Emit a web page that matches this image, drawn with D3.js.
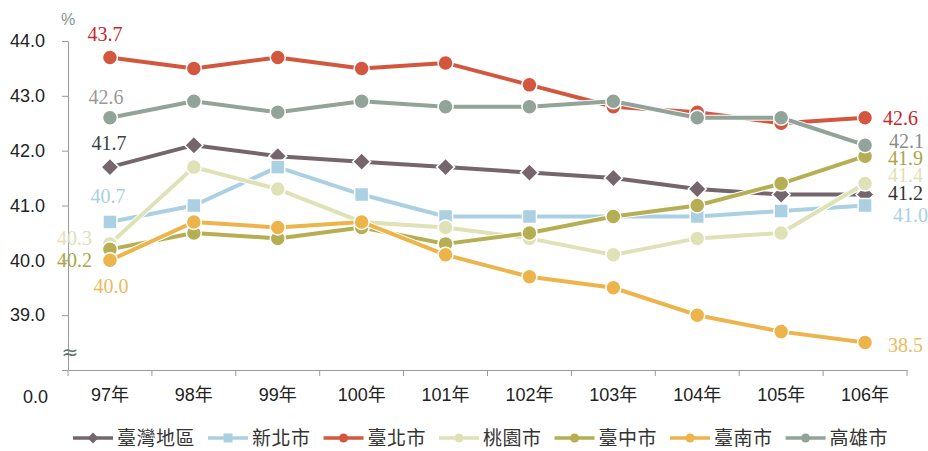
<!DOCTYPE html>
<html>
<head>
<meta charset="utf-8">
<script src="https://cdn.jsdelivr.net/npm/d3@7"></script>
<style>
  html, body { margin: 0; padding: 0; background: #fff; }
  svg { display: block; }
</style>
</head>
<body>
<svg id="chart" width="928" height="451"></svg>
<script>
// ---------------- data ----------------
const years = ["97年", "98年", "99年", "100年", "101年", "102年", "103年", "104年", "105年", "106年"];
const seriesNames = ["臺灣地區", "新北市", "臺北市", "桃園市", "臺中市", "臺南市", "高雄市"];
const taiwan    = [41.7, 42.1, 41.9, 41.8, 41.7, 41.6, 41.5, 41.3, 41.2, 41.2];
const newTaipei = [40.7, 41.0, 41.7, 41.2, 40.8, 40.8, 40.8, 40.8, 40.9, 41.0];
const taipei    = [43.7, 43.5, 43.7, 43.5, 43.6, 43.2, 42.8, 42.7, 42.5, 42.6];
const taoyuan   = [40.3, 41.7, 41.3, 40.7, 40.6, 40.4, 40.1, 40.4, 40.5, 41.4];
const taichung  = [40.2, 40.5, 40.4, 40.6, 40.3, 40.5, 40.8, 41.0, 41.4, 41.9];
const tainan    = [40.0, 40.7, 40.6, 40.7, 40.1, 39.7, 39.5, 39.0, 38.7, 38.5];
const kaohsiung = [42.6, 42.9, 42.7, 42.9, 42.8, 42.8, 42.9, 42.6, 42.6, 42.1];
const yTicks = [38, 39, 40, 41, 42, 43, 44];
const yBreakLabel = "0.0";
const unitLabel = "%";

// ---------------- styles ----------------
const seriesValues = [taiwan, newTaipei, taipei, taoyuan, taichung, tainan, kaohsiung];
const colors = ["#75666d", "#abd0e1", "#d3573f", "#dfe1b6", "#b6ae52", "#ecb44a", "#92a399"];
const shapes = ["diamond", "square", "circle", "circle", "circle", "circle", "circle"];
const labelColors = ["#404040", "#abd0e1", "#c8282a", "#dfe1b6", "#aaa547", "#edb95c", "#999999"];
const endLabelColors = ["#333333", "#abd0e1", "#c8282a", "#dfe1b6", "#aaa547", "#edb95c", "#8c8c8c"];
// label offsets relative to first / last point: [anchor, dx, dy]
const startLabelPos = [["middle", -1, -17], ["middle", -2, -19], ["middle", -5, -16], ["end", -18, 1], ["end", -18, 18], ["middle", 1, 33], ["middle", -4, -14]];
const endLabelPos = [["start", 23, 5], ["start", 28, 16], ["start", 18, 7], ["start", 23, -2], ["start", 23, 8.5], ["start", 23, 9.5], ["start", 24, 2.5]];

const svg = d3.select("#chart");
const x = d3.scaleBand().domain(years).range([68, 907]);
const cx = d => x(d) + x.bandwidth() / 2;
const y = d3.scaleLinear().domain([38, 44]).range([370, 41]);

const sansFont = "'Liberation Sans', Arial, 'Noto Sans CJK TC', sans-serif";
const cjkFont = "'Liberation Sans', 'Noto Sans CJK TC', sans-serif";
const serifFont = "'Liberation Serif', 'Times New Roman', serif";

// y axis
const yAxis = svg.append("g").attr("transform", "translate(68,0)")
  .call(d3.axisLeft(y).tickValues(yTicks).tickSize(6).tickSizeOuter(0)
    .tickPadding(17)
    .tickFormat(d => d === 38 ? "" : d3.format(".1f")(d)));
yAxis.selectAll("path, line").attr("stroke", "#9a9a9a");
yAxis.selectAll("text").attr("font-family", sansFont).attr("font-size", 18).attr("fill", "#222");

// x axis
const xAxis = svg.append("g").attr("transform", "translate(0,370)")
  .call(d3.axisBottom(x).tickSize(0).tickSizeOuter(0).tickPadding(18));
xAxis.select("path").attr("stroke", "#9a9a9a");
xAxis.selectAll("text").attr("font-family", cjkFont).attr("font-size", 18).attr("fill", "#222");
const bounds = years.map(d => x(d)).concat([x.range()[1]]);
xAxis.selectAll(".bound").data(bounds).enter().append("line")
  .attr("x1", d => d).attr("x2", d => d).attr("y1", 0).attr("y2", 6)
  .attr("stroke", "#9a9a9a");

// break label, unit, break symbol
svg.append("text").attr("x", 48).attr("y", 403).attr("text-anchor", "end")
  .attr("font-family", sansFont).attr("font-size", 18).attr("fill", "#222").text(yBreakLabel);
svg.append("text").attr("x", 68).attr("y", 25).attr("text-anchor", "middle")
  .attr("font-family", sansFont).attr("font-size", 16).attr("fill", "#7f9690").text(unitLabel);
svg.append("text").attr("x", 70).attr("y", 359).attr("text-anchor", "middle")
  .attr("font-family", "'DejaVu Sans', sans-serif").attr("font-size", 20).attr("fill", "#5d766e").text("≈");

// marker drawing
function marker(g, shape, color, size, strokeW) {
  if (shape === "circle") {
    g.append("circle").attr("r", size).attr("fill", color).attr("stroke", "#fff").attr("stroke-width", strokeW);
  } else if (shape === "square") {
    g.append("rect").attr("x", -size).attr("y", -size).attr("width", size * 2).attr("height", size * 2)
      .attr("fill", color).attr("stroke", "#fff").attr("stroke-width", strokeW);
  } else {
    const h = size * 1.2;
    g.append("path").attr("d", `M0,${-h}L${h},0L0,${h}L${-h},0Z`)
      .attr("fill", color).attr("stroke", "#fff").attr("stroke-width", strokeW);
  }
}

const line = d3.line().x((d, i) => cx(years[i])).y(d => y(d));

seriesValues.forEach((vals, si) => {
  const g = svg.append("g");
  g.append("path").datum(vals).attr("d", line).attr("fill", "none")
    .attr("stroke", "#fff").attr("stroke-width", 6).attr("stroke-linejoin", "round");
  g.append("path").datum(vals).attr("d", line).attr("fill", "none")
    .attr("stroke", colors[si]).attr("stroke-width", 4).attr("stroke-linejoin", "round");
  vals.forEach((v, i) => {
    const mg = g.append("g").attr("transform", `translate(${cx(years[i])},${y(v)})`);
    marker(mg, shapes[si], colors[si], shapes[si] === "square" ? 7 : 7.5, 1.5);
  });
});

// labels
const fmt = d3.format(".1f");
seriesValues.forEach((vals, si) => {
  const s = startLabelPos[si];
  svg.append("text").attr("x", cx(years[0]) + s[1]).attr("y", y(vals[0]) + s[2])
    .attr("text-anchor", s[0]).attr("font-family", serifFont).attr("font-size", 20)
    .attr("fill", labelColors[si]).text(fmt(vals[0]));
  const e = endLabelPos[si];
  const n = vals.length - 1;
  svg.append("text").attr("x", cx(years[n]) + e[1]).attr("y", y(vals[n]) + e[2])
    .attr("text-anchor", e[0]).attr("font-family", serifFont).attr("font-size", 20)
    .attr("fill", endLabelColors[si]).text(fmt(vals[n]));
});

// legend
const legend = svg.append("g").attr("transform", "translate(0,438)");
let lx = 73;
seriesNames.forEach((name, si) => {
  const g = legend.append("g").attr("transform", `translate(${lx},0)`);
  g.append("line").attr("x1", 0).attr("x2", 40).attr("y1", 0).attr("y2", 0)
    .attr("stroke", colors[si]).attr("stroke-width", 3.5);
  const mg = g.append("g").attr("transform", "translate(20,0)");
  marker(mg, shapes[si], colors[si], shapes[si] === "square" ? 4.5 : 4.5, 0);
  const t = g.append("text").attr("x", 44).attr("y", 7).attr("font-family", cjkFont)
    .attr("font-size", 19).attr("fill", "#333").attr("letter-spacing", 0.5).text(name);
  lx += 44 + t.node().getComputedTextLength() + 13;
});
</script>
</body>
</html>
